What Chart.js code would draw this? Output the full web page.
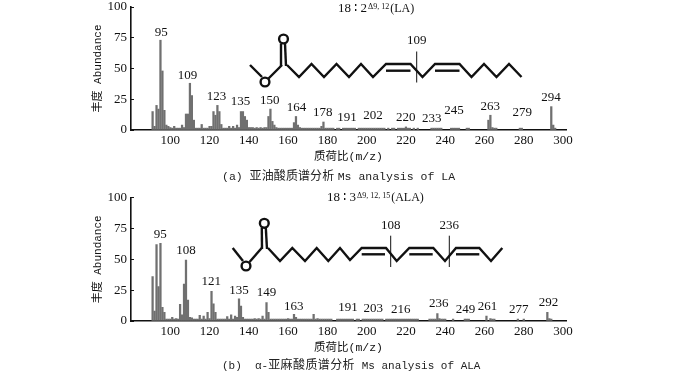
<!DOCTYPE html>
<html>
<head>
<meta charset="utf-8">
<script src="https://cdn.jsdelivr.net/npm/chart.js@4"></script>
<style>
  html, body { margin: 0; padding: 0; background: #fff; }
  #page { position: relative; width: 700px; height: 371px; overflow: hidden; }
  canvas { position: absolute; left: 0; }
  #graficoLA { top: 0; }
  #graficoALA { top: 185px; }
  .legenda { position: absolute; white-space: pre; color: #222; font: 11.5px/14px "Liberation Mono", "Noto Sans CJK SC"; }
  .legenda span { font-family: "Noto Sans CJK SC"; font-size: 12px; }
</style>
</head>
<body>
<div id="page">
  <canvas id="graficoLA" width="700" height="185"></canvas>
  <canvas id="graficoALA" width="700" height="186"></canvas>
  <div class="legenda" style="left:222px;top:168px">(a) <span style="letter-spacing:.1px;margin-right:-3.5px">亚油酸质谱分析</span> Ms analysis of LA</div>
  <div class="legenda" style="left:222px;top:357px;font-size:11px">(b)  α-<span style="letter-spacing:.4px">亚麻酸质谱分析</span> Ms analysis of ALA</div>
</div>
<script>
const xTicks = [100, 120, 140, 160, 180, 200, 220, 240, 260, 280, 300];
const yTicks = [0, 25, 50, 75, 100];

const mzLA = [91, 92, 93, 94, 95, 96, 97, 98, 99, 100, 101, 102, 103, 104, 105, 106, 107, 108, 109, 110,
  111, 112, 113, 114, 115, 116, 117, 118, 119, 120, 121, 122, 123, 124, 125, 126, 127, 128, 129, 130,
  131, 132, 133, 134, 135, 136, 137, 138, 139, 140, 141, 142, 143, 144, 145, 146, 147, 148, 149, 150,
  151, 152, 153, 154, 155, 156, 157, 158, 159, 160, 161, 162, 163, 164, 165, 166, 167, 168, 169, 170,
  171, 172, 173, 174, 175, 176, 177, 178, 179, 180, 181, 182, 183, 185, 186, 188, 189, 190, 191, 192,
  193, 194, 196, 197, 198, 199, 200, 201, 202, 203, 204, 205, 206, 207, 208, 209, 211, 213, 214, 216,
  217, 218, 219, 220, 221, 222, 224, 226, 233, 234, 235, 236, 237, 238, 243, 244, 245, 246, 247, 251,
  252, 262, 263, 264, 265, 266, 278, 279, 294, 295, 296];
const abundLA = [15, 3, 20, 17, 73, 48, 16, 4, 3, 2, 1.5, 3, 1.5, 1.5, 1.5, 4, 2, 13, 13, 38,
  28, 8, 1.5, 1.5, 1.5, 4.5, 1.5, 1.5, 1.5, 3, 3, 15, 12, 20, 15, 4.5, 1.5, 1.5, 1.5, 3,
  1.5, 3, 1.5, 4, 2, 15, 15, 11, 8, 2, 2, 2, 1.5, 2, 1.5, 2, 1.5, 2, 2, 11,
  17, 7, 4, 2, 1.5, 1.5, 1.5, 1.5, 1.5, 1.5, 1.5, 1.5, 6, 11, 4, 2, 1.5, 1.5, 1.5, 1.5,
  1.5, 1.5, 1.5, 1.5, 1.5, 1.5, 3, 6.5, 1.5, 1.5, 1.5, 1.5, 1.5, 1.5, 1.5, 1.5, 1.5, 1.5, 1.5, 1.5,
  1.5, 1.5, 1.5, 1.5, 1.5, 1.5, 1.5, 1.5, 1.5, 1.5, 1.5, 1.5, 1.5, 1.5, 1.5, 1.5, 1.5, 1.5, 1.5, 1.5,
  1.5, 1.5, 1.5, 2.5, 1.5, 1.5, 1.5, 1.5, 1.5, 1.5, 1.5, 1.5, 1.5, 1.5, 1.5, 1.5, 1.5, 1.5, 1.5, 1.5,
  1.5, 8, 12, 2, 1.5, 1.5, 1.5, 1.5, 19, 4, 1.5];

const mzALA = [91, 92, 93, 94, 95, 96, 97, 98, 99, 100, 101, 102, 103, 104, 105, 106, 107, 108, 109, 110,
  111, 112, 113, 114, 115, 116, 117, 118, 119, 120, 121, 122, 123, 124, 125, 126, 127, 128, 129, 130,
  131, 132, 133, 134, 135, 136, 137, 138, 139, 140, 141, 142, 143, 144, 145, 146, 147, 148, 149, 150,
  151, 152, 153, 154, 155, 156, 157, 158, 159, 160, 161, 162, 163, 164, 165, 166, 167, 168, 169, 170,
  171, 172, 173, 174, 175, 176, 177, 178, 179, 180, 181, 182, 185, 186, 187, 188, 189, 190, 191, 192,
  193, 195, 196, 198, 199, 200, 201, 202, 203, 204, 205, 206, 207, 208, 210, 211, 212, 213, 214, 215,
  216, 217, 218, 219, 220, 221, 222, 223, 224, 225, 226, 232, 233, 234, 235, 236, 237, 238, 239, 240,
  244, 250, 251, 252, 261, 263, 264, 265, 277, 280, 292, 293, 294];
const abundALA = [36, 8, 62, 28, 63, 11, 7, 1.5, 1.5, 1.5, 3, 1.5, 2, 1.5, 13.5, 5, 30, 49.5, 17, 3,
  2.5, 1.5, 1.5, 1.5, 4.5, 1.5, 4, 1.5, 7, 2, 24, 14, 7, 1.5, 1.5, 1.5, 1.5, 1.5, 3.5, 1.5,
  5, 1.5, 4, 3, 18, 12, 3, 1.5, 1.5, 1.5, 1.5, 1.5, 2, 1.5, 2, 1.5, 4, 1.5, 15, 7,
  1.5, 1.5, 1.5, 1.5, 1.5, 1.5, 1.5, 1.5, 1.5, 2, 1.5, 1.5, 5.5, 3, 1.5, 1.5, 1.5, 1.5, 1.5, 1.5,
  1.5, 1.5, 5.5, 1.5, 2, 1.5, 1.5, 1.5, 1.5, 1.5, 1.5, 1.5, 1.5, 1.5, 1.5, 1.5, 1.5, 1.5, 1.5, 1.5,
  1.5, 1.5, 1.5, 1.5, 1.5, 1.5, 1.5, 1.5, 1.5, 1.5, 1.5, 1.5, 1.5, 1.5, 1.5, 1.5, 1.5, 1.5, 1.5, 1.5,
  1.5, 1.5, 1.5, 1.5, 1.5, 1.5, 1.5, 1.5, 1.5, 1.5, 1.5, 1.5, 1.5, 1.5, 1.5, 6, 2, 1.5, 1.5, 1.5,
  1.5, 1.5, 1.5, 1.5, 4, 2, 1.5, 1.5, 1.5, 1.5, 7, 2, 1.5];

// peak labels: text, x on the m/z scale, y on the abundance scale
const picosLA = ['95', '109', '123', '135', '150', '164', '178', '191', '202', '220', '233', '245', '263', '279', '294'];
const picosLAx = [95.4, 108.8, 123.5, 135.7, 150.7, 164.3, 177.7, 190, 203.2, 219.9, 233.2, 244.5, 262.9, 279.2, 293.9];
const picosLAy = [79, 44, 27, 23, 24, 18, 14, 10, 12, 10.5, 9, 15.5, 19, 14, 26];
const picosALA = ['95', '108', '121', '135', '149', '163', '191', '203', '216', '236', '249', '261', '277', '292'];
const picosALAx = [94.9, 108, 120.8, 135, 149, 162.9, 190.5, 203.4, 217.4, 236.7, 250.3, 261.5, 277.5, 292.6];
const picosALAy = [70, 57, 31.6, 25, 23, 12, 10.5, 10, 9, 14, 9, 12, 9.5, 15];

const fonteNum = '13px "Liberation Serif"';
const fonteCJK = 'Liberation Mono, Noto Sans CJK SC';

// molecule sketches, canvas pixels of each chart
const moleculaLA = {
    cadeia: [[287, 65], [299, 77], [311.5, 64], [324, 77], [336.5, 64], [349, 77], [361, 64], [373, 77], [386, 64], [410.5, 64], [422.5, 77], [435, 64], [459.5, 64], [471.5, 77], [484, 64], [496.5, 77], [509, 64], [521.5, 77]],
    duplas: [[386, 70.7, 410.5], [435, 70.7, 459.5]],
    cortes: [[416.7, 51.5, 82.5, '109']],
    metil: [[250, 65], [262, 77]],
    ester: [[268.5, 78.5], [282, 65]],
    oAlto: [283.5, 39], oBaixo: [265, 82]
};
const moleculaALA = {
    cadeia: [[268, 63], [280, 76], [292.3, 63], [305, 76], [316.7, 63], [328.3, 76], [340, 63], [350, 75], [361.7, 63], [386, 63], [396.7, 76], [409.3, 63], [433.3, 63], [445, 76], [456, 63], [479.3, 63], [491, 76], [502.3, 63]],
    duplas: [[361.7, 69.3, 385], [409.3, 69.3, 432.7], [456, 69.3, 479.3]],
    cortes: [[390.7, 50.7, 82, '108'], [449.3, 50.7, 82, '236']],
    metil: [[232.7, 63], [243, 76]],
    ester: [[249.5, 77], [261.7, 63]],
    oAlto: [264.3, 38.3], oBaixo: [246, 81]
};

function desenharMolecula(ctx, m) {
    ctx.strokeStyle = '#111';
    ctx.lineWidth = 2.4;
    ctx.lineJoin = 'miter';

    const linha = pts => {
        ctx.beginPath();
        pts.forEach((p, i) => i ? ctx.lineTo(p[0], p[1]) : ctx.moveTo(p[0], p[1]));
        ctx.stroke();
    };
    linha(m.cadeia);
    linha(m.metil);
    linha(m.ester);
    // C=O
    linha([[m.cadeia[0][0] - 6, m.cadeia[0][1] + 1], [m.oAlto[0] - 2.5, m.oAlto[1] + 4.5]]);
    linha([[m.cadeia[0][0] - 1, m.cadeia[0][1] + 1], [m.oAlto[0] + 1.5, m.oAlto[1] + 4.5]]);
    m.duplas.forEach(d => linha([[d[0], d[1]], [d[2], d[1]]]));
    [m.oAlto, m.oBaixo].forEach(o => {
        ctx.beginPath();
        ctx.arc(o[0], o[1], 4.4, 0, Math.PI * 2);
        ctx.stroke();
    });

    ctx.lineWidth = 1;
    ctx.fillStyle = '#111';
    ctx.font = fonteNum;
    ctx.textAlign = 'center';
    ctx.textBaseline = 'middle';
    m.cortes.forEach(c => {
        linha([[c[0], c[1]], [c[0], c[2]]]);
        ctx.fillText(c[3], c[0], c[1] - 10.5);
    });
}

function criarGrafico(id, mz, abund, picos, picosX, picosY, titulo, delta, molecula, yTopo, xTitulo, yTitulo, folgaBaixo) {
    const rotulos = {
        id: 'rotulos',
        afterDatasetsDraw(chart) {
            const { ctx, scales } = chart;
            ctx.save();
            ctx.fillStyle = '#111';
            ctx.font = fonteNum;
            ctx.textAlign = 'center';
            ctx.textBaseline = 'middle';
            picos.forEach((t, i) => {
                ctx.fillText(t, scales.x.getPixelForValue(picosX[i]), scales.y.getPixelForValue(picosY[i]));
            });

            ctx.textAlign = 'left';
            ctx.fillText(titulo, xTitulo, yTitulo);
            let x = xTitulo + ctx.measureText(titulo).width + 1;
            ctx.font = '8px "Liberation Serif"';
            ctx.fillText(delta, x, yTitulo - 2);
            x += ctx.measureText(delta).width + 1;
            ctx.font = '12px "Liberation Serif"';
            ctx.fillText(id === 'graficoLA' ? '(LA)' : '(ALA)', x, yTitulo);

            desenharMolecula(ctx, molecula);
            ctx.restore();
        }
    };

    return new Chart(document.getElementById(id), {
        type: 'bar',
        data: {
            datasets: [{
                data: mz.map((v, i) => ({ x: v, y: abund[i] })),
                backgroundColor: '#707070',
                barThickness: 1.6
            }]
        },
        options: {
            responsive: false,
            animation: false,
            events: [],
            layout: { padding: { top: yTopo, right: 134, bottom: folgaBaixo, left: 91 } },
            plugins: { legend: { display: false }, tooltip: { enabled: false } },
            scales: {
                x: {
                    type: 'linear',
                    offset: false,
                    min: 80,
                    max: 301.5,
                    afterBuildTicks: s => { s.ticks = xTicks.map(v => ({ value: v })); },
                    afterFit: s => { s.height = 34; s.paddingLeft = 0; s.paddingRight = 0; },
                    grid: { display: false, drawTicks: false },
                    border: { color: '#111', width: 1.6 },
                    ticks: { color: '#111', font: { family: 'Liberation Serif', size: 13 }, maxRotation: 0, autoSkip: false, padding: 3 },
                    title: { display: true, text: '质荷比(m/z)', color: '#111', font: { family: fonteCJK, size: 11.5 }, padding: 0 }
                },
                y: {
                    min: 0,
                    max: 100,
                    afterBuildTicks: s => { s.ticks = yTicks.map(v => ({ value: v })); },
                    afterFit: s => { s.width = 40; s.paddingTop = 0; s.paddingBottom = 0; },
                    grid: { drawOnChartArea: false, tickLength: -3, color: '#111' },
                    border: { color: '#111', width: 1.6 },
                    ticks: { color: '#111', font: { family: 'Liberation Serif', size: 13 }, padding: 7 },
                    title: { display: true, text: '丰度 Abundance', color: '#111', font: { family: fonteCJK, size: 11 }, padding: 0 }
                }
            }
        },
        plugins: [rotulos]
    });
}

criarGrafico('graficoLA', mzLA, abundLA, picosLA, picosLAx, picosLAy, '18 ∶ 2', 'Δ9, 12', moleculaLA, 7, 338, 8.5, 21);
criarGrafico('graficoALA', mzALA, abundALA, picosALA, picosALAx, picosALAy, '18 ∶ 3', 'Δ9, 12, 15', moleculaALA, 12.7, 327, 12.7, 16);
</script>
</body>
</html>
